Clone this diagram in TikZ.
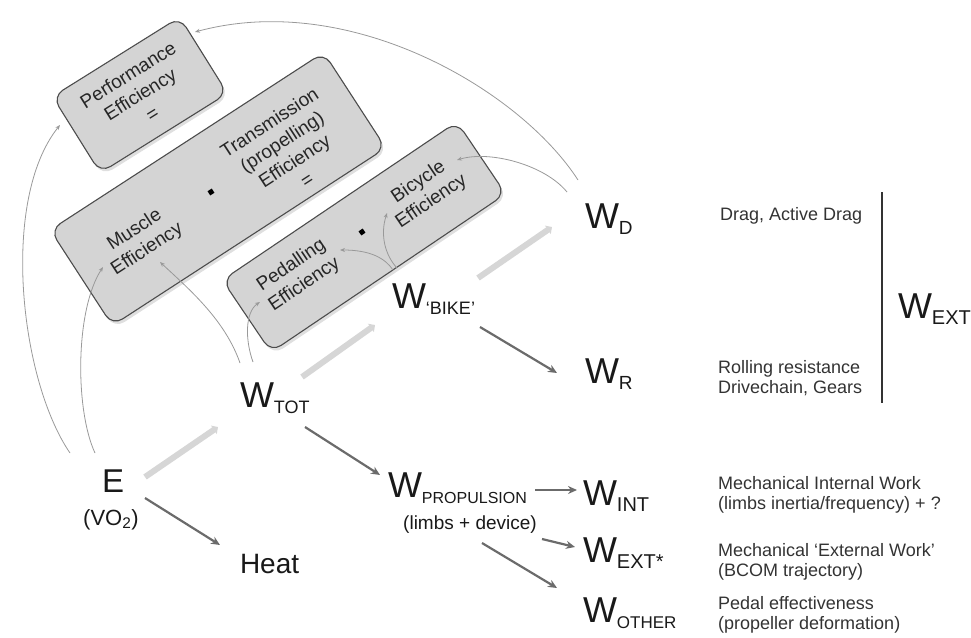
\documentclass[tikz,border=0pt]{standalone}
\usepackage{fontspec}
\setmainfont{Liberation Sans}
\usetikzlibrary{arrows.meta,shadows}

\newcommand{\Wlab}[2][18]{{\fontsize{36}{36}\selectfont W}\raisebox{-6pt}{\fontsize{#1}{#1}\selectfont #2}}
\newcommand{\boxtext}{\fontsize{19}{23}\selectfont}
\newcommand{\notetext}{\fontsize{18}{20}\selectfont}

\begin{document}
\begin{tikzpicture}[x=1pt,y=-1pt,
  effbox/.style={draw=black!70,line width=1.1pt,rounded corners=12pt,fill=black!17,
    drop shadow={shadow xshift=2pt,shadow yshift=-3pt,opacity=.25}},
  efftext/.style={align=center,font=\boxtext,text=black!85,inner sep=0pt},
  dotnode/.style={fill=black,inner sep=0pt,minimum size=5pt},
  wlab/.style={inner sep=0pt,outer sep=0pt,text=black!90},
  note/.style={align=left,font=\notetext,text=black!80,inner sep=0pt},
  thinline/.style={draw=black!40,line width=0.8pt,-{Stealth[length=5pt,width=4pt]}},
  flow/.style={draw=black!58,line width=2.2pt,-{Stealth[length=9pt,width=8pt]}},
  lightflow/.style={draw=black!16,line width=6pt,-{Triangle[length=5pt,width=10pt]}}]
            \useasboundingbox (0,0) rectangle (971,637);

            % efficiency boxes
            \node[effbox,minimum width=150pt,minimum height=90pt,rotate=32] (perfbox) at (140,95) {};
            \node[effbox,minimum width=326pt,minimum height=114pt,rotate=33] (transbox) at (218,189) {};
            \node[effbox,minimum width=283pt,minimum height=87pt,rotate=34] (bikebox) at (364,237) {};

            \node[efftext,rotate=32] (perf) at (140,94) {Performance\\Efficiency\\=};
            \node[efftext,rotate=33] (muscle) at (141,240) {Muscle\\Efficiency};
            \node[efftext,rotate=33] (trans) at (288,151) {Transmission\\(propelling)\\Efficiency\\=};
            \node[dotnode,rotate=33] (dotA) at (211,192) {};
            \node[efftext,rotate=34] (pedal) at (298,275) {Pedalling\\Efficiency};
            \node[efftext,rotate=34] (bicycle) at (425,192) {Bicycle\\Efficiency};
            \node[dotnode,rotate=34] (dotB) at (362,232) {};

            % work terms
            \node[wlab,anchor=base west,font=\fontsize{33}{33}\selectfont] (E) at (102,492) {E};
            \node[wlab,anchor=base,font=\fontsize{22}{22}\selectfont] (vo) at (111,525) {(VO\textsubscript{2})};
            \node[wlab,anchor=base west,font=\fontsize{28}{28}\selectfont] (heat) at (240,573) {Heat};
            \node[wlab,anchor=base west] (Wtot) at (240,407) {\Wlab{TOT}};
            \node[wlab,anchor=base west] (Wbike) at (392,308) {\Wlab{`BIKE'}};
            \node[wlab,anchor=base west] (Wd) at (585,228) {\Wlab[19]{D}};
            \node[wlab,anchor=base west] (Wr) at (585,383) {\Wlab[19]{R}};
            \node[wlab,anchor=base west] (Wprop) at (388,497) {\Wlab[16]{PROPULSION}};
            \node[wlab,anchor=base,font=\fontsize{19}{19}\selectfont] (limbs) at (470,529) {(limbs + device)};
            \node[wlab,anchor=base west] (Wint) at (583,505) {\Wlab[20]{INT}};
            \node[wlab,anchor=base west] (Wextstar) at (583,562) {\Wlab[20]{EXT*}};
            \node[wlab,anchor=base west] (Wother) at (583,622) {\Wlab[17]{OTHER}};
            \node[wlab,anchor=base west] (Wext) at (898,318) {\Wlab[20]{EXT}};

            % notes on the right
            \node[note,anchor=base west] (drag) at (720,220) {Drag, Active Drag};
            \node[note,anchor=west] (roll) at (718,378) {Rolling resistance\\Drivechain, Gears};
            \node[note,anchor=west] (intnote) at (718,495) {Mechanical Internal Work\\(limbs inertia/frequency) + ?};
            \node[note,anchor=west] (extnote) at (718,562) {Mechanical `External Work'\\(BCOM trajectory)};
            \node[note,anchor=west] (othernote) at (718,615) {Pedal effectiveness\\(propeller deformation)};
            \coordinate (brtop) at (882,192);
            \coordinate (brbot) at (882,403);
            \draw[black!80,line width=2pt] (brtop) -- (brbot);

            % thin links to the efficiencies
            \draw[thinline] ([shift={(-32,-39)}]E.base west) .. controls +(-50,-73) and +(-60,75) .. ([shift={(-80,31)}]perf.center);
            \draw[thinline] ([shift={(-7,-39)}]E.base west) .. controls +(-20,-43) and +(-28,43) .. ([shift={(-38,27)}]muscle.center);
            \draw[thinline] ([shift={(0,-44)}]Wtot.base west) .. controls +(-15,-43) and +(30,28) .. ([shift={(19,22)}]muscle.center);
            \draw[thinline] ([shift={(13,-45)}]Wtot.base west) .. controls +(-8,-22) and +(-15,10) .. ([shift={(-38,27)}]pedal.center);
            \draw[thinline] ([shift={(1,-38)}]Wbike.base west) .. controls +(-8,-12) and +(30,0) .. ([shift={(42,-25)}]pedal.center);
            \draw[thinline] ([shift={(5,-40)}]Wbike.base west) .. controls +(-12,-13) and +(-7,22) .. ([shift={(-38,21)}]bicycle.center);
            \draw[thinline] ([shift={(-18,-36)}]Wd.base west) .. controls +(-22,-27) and +(33,-10) .. ([shift={(32,-32)}]bicycle.center);
            \draw[thinline] ([shift={(-7,-48)}]Wd.base west) .. controls +(-58,-90) and +(155,-42) .. ([shift={(55,-62)}]perf.center);

            % energy flow
            \draw[lightflow] ([shift={(43,-15)}]E.base west) -- ([shift={(-22,20)}]Wtot.base west);
            \draw[lightflow] ([shift={(62,-30)}]Wtot.base west) -- ([shift={(-17,17)}]Wbike.base west);
            \draw[lightflow] ([shift={(86,-30)}]Wbike.base west) -- ([shift={(-33,-1)}]Wd.base west);
            \draw[flow] ([shift={(43,6)}]E.base west) -- ([shift={(-20,-28)}]heat.base west);
            \draw[flow] ([shift={(65,20)}]Wtot.base west) -- ([shift={(-8,-22)}]Wprop.base west);
            \draw[flow] ([shift={(88,19)}]Wbike.base west) -- ([shift={(-28,-10)}]Wr.base west);
            \draw[flow] ([shift={(147,-7)}]Wprop.base west) -- ([shift={(-6,-15)}]Wint.base west);
            \draw[flow] ([shift={(154,42)}]Wprop.base west) -- ([shift={(-8,-15)}]Wextstar.base west);
            \draw[flow] ([shift={(94,46)}]Wprop.base west) -- ([shift={(-26,-34)}]Wother.base west);
        \end{tikzpicture}
\end{document}
